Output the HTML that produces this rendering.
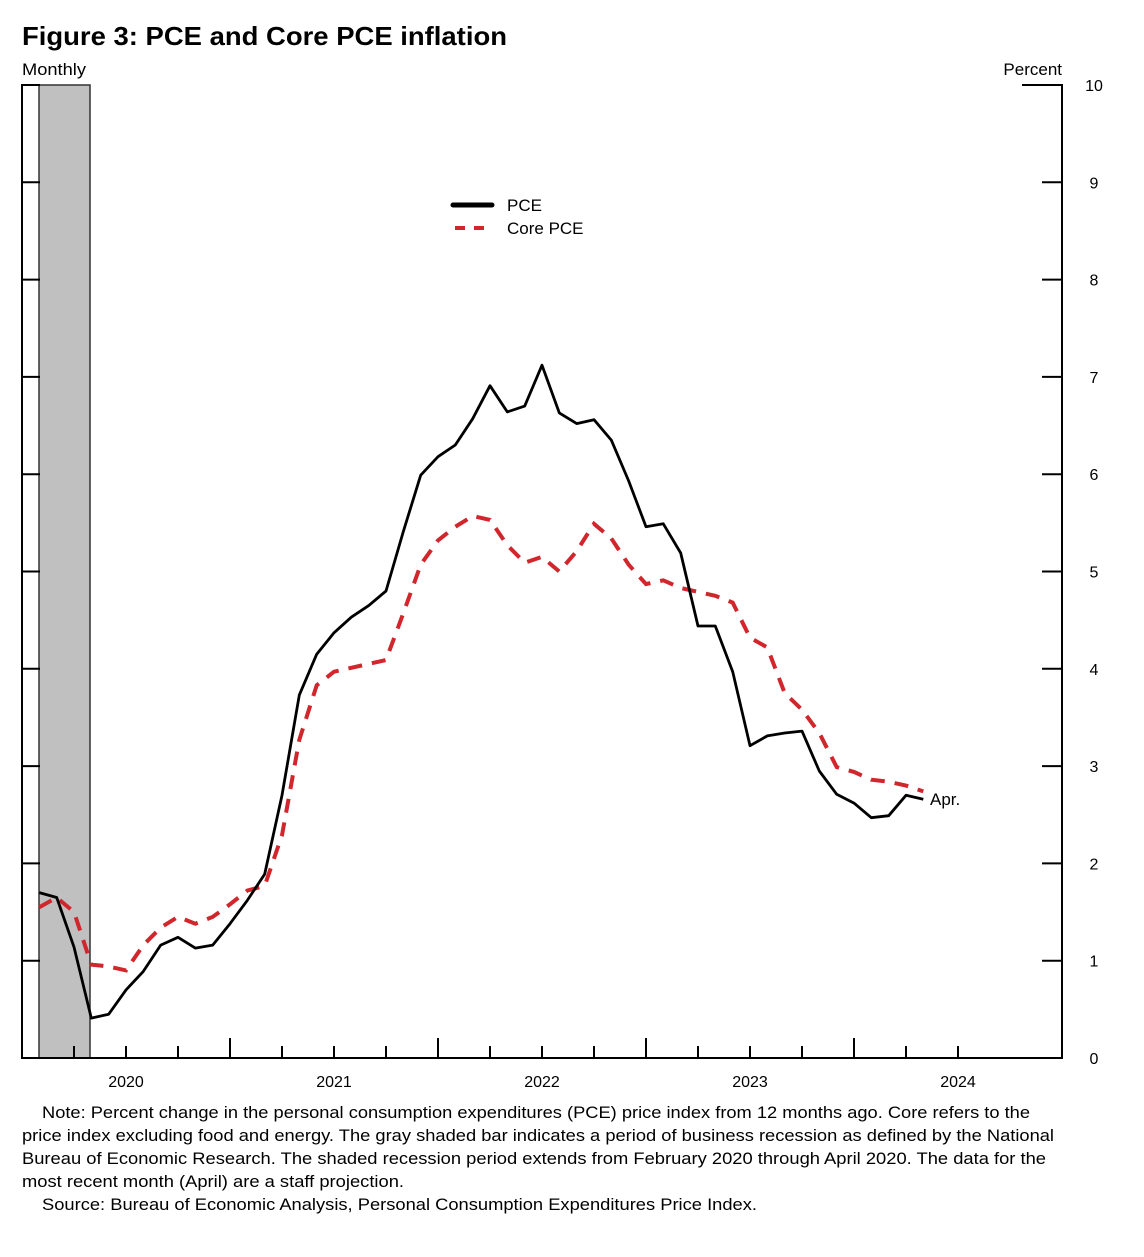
<!DOCTYPE html>
<html><head><meta charset="utf-8"><style>
body{margin:0;background:#fff;font-family:"Liberation Sans",Arial,sans-serif;}
svg text{font-family:"Liberation Sans",Arial,sans-serif;}
</style></head><body>
<svg id="c" width="1144" height="1252" xmlns="http://www.w3.org/2000/svg">
<text x="22" y="45" font-size="26" font-weight="bold" textLength="485" lengthAdjust="spacingAndGlyphs">Figure 3: PCE and Core PCE inflation</text>
<text x="22" y="75" font-size="17" textLength="64" lengthAdjust="spacingAndGlyphs">Monthly</text>
<text x="1062" y="75" font-size="17" text-anchor="end">Percent</text>
<rect x="39" y="85" width="51" height="973" fill="#c0c0c0" stroke="#333" stroke-width="1.5"/>
<g id="axes"></g>
<g id="series"></g>
<g>
<line x1="453" y1="205" x2="492" y2="205" stroke="#000" stroke-width="5" stroke-linecap="round"/>
<text x="507" y="211" font-size="17">PCE</text>
<line x1="455" y1="228" x2="492" y2="228" stroke="#d0262c" stroke-width="4" stroke-dasharray="10,9"/>
<text x="507" y="234" font-size="17">Core PCE</text>
</g>
<text x="930" y="805" font-size="17">Apr.</text>
<g font-size="17" lengthAdjust="spacingAndGlyphs">
<text x="42" y="1118" textLength="988" lengthAdjust="spacingAndGlyphs">Note: Percent change in the personal consumption expenditures (PCE) price index from 12 months ago. Core refers to the</text>
<text x="22" y="1141" textLength="1032" lengthAdjust="spacingAndGlyphs">price index excluding food and energy. The gray shaded bar indicates a period of business recession as defined by the National</text>
<text x="22" y="1164" textLength="1024" lengthAdjust="spacingAndGlyphs">Bureau of Economic Research. The shaded recession period extends from February 2020 through April 2020. The data for the</text>
<text x="22" y="1187" textLength="382" lengthAdjust="spacingAndGlyphs">most recent month (April) are a staff projection.</text>
<text x="42" y="1210" textLength="715" lengthAdjust="spacingAndGlyphs">Source: Bureau of Economic Analysis, Personal Consumption Expenditures Price Index.</text>
</g>
</svg>
<script>
const years=["2020","2021","2022","2023","2024"];
const yTicks=[0,1,2,3,4,5,6,7,8,9,10];
const pce=[1.70,1.65,1.14,0.41,0.45,0.70,0.89,1.16,1.24,1.13,1.16,1.38,1.62,1.89,2.70,3.73,4.15,4.37,4.53,4.65,4.80,5.41,5.99,6.18,6.30,6.57,6.91,6.64,6.70,7.12,6.63,6.52,6.56,6.35,5.93,5.46,5.49,5.19,4.44,4.44,3.97,3.21,3.31,3.34,3.36,2.95,2.71,2.62,2.47,2.49,2.70,2.66];
const core=[1.55,1.65,1.50,0.96,0.94,0.90,1.16,1.34,1.45,1.38,1.45,1.58,1.72,1.77,2.29,3.27,3.83,3.97,4.01,4.05,4.09,4.57,5.07,5.32,5.46,5.57,5.53,5.27,5.09,5.15,5.00,5.21,5.49,5.34,5.07,4.87,4.91,4.83,4.79,4.75,4.68,4.32,4.22,3.75,3.58,3.34,2.99,2.94,2.86,2.84,2.80,2.74];
const L=22,R=1062,T=85,B=1058,MW=(1062-22)/60;
const x=i=>L+MW*(i+1);
const y=v=>B-(B-T)*v/10;
const NS="http://www.w3.org/2000/svg";
function mk(t,a,p){const e=document.createElementNS(NS,t);for(const k in a)e.setAttribute(k,a[k]);p.appendChild(e);return e;}
const ax=document.getElementById('axes');
let e=mk('path',{d:`M${L+18} ${T}H${L}V${B}H${R}V${T}H${R-40}`,fill:'none',stroke:'#000','stroke-width':2},ax);


yTicks.forEach(v=>{
 if(v>0&&v<10){
 let t=mk('line',{x1:L,x2:L+18,y1:y(v),y2:y(v),stroke:'#000','stroke-width':2},ax);
 
 
 let t2=mk('line',{x1:R-20,x2:R,y1:y(v),y2:y(v),stroke:'#000','stroke-width':2},ax);
 
 }
 let l=mk('text',{x:1094,y:y(v)+6,'font-size':16,'text-anchor':'middle'},ax);l.textContent=v;
 
 
});
for(let q=1;q<19;q++){
 const xx=L+q*MW*3,tall=q%4==0;
 let t=mk('line',{x1:xx,x2:xx,y1:B,y2:B-(tall?20:12),stroke:'#000','stroke-width':2},ax);
 
 
}
years.forEach((yr,i)=>{
 let l=mk('text',{x:L+MW*12*(i+0.5),y:1087,'font-size':16,'text-anchor':'middle'},ax);l.textContent=yr;
 
 
});
const sg=document.getElementById('series');
const pts=a=>a.map((v,i)=>x(i).toFixed(1)+','+y(v).toFixed(1)).join(' ');
let c=mk('polyline',{points:pts(core),fill:'none',stroke:'#d0262c','stroke-width':4,'stroke-dasharray':'14,10'},sg);


let p=mk('polyline',{points:pts(pce),fill:'none',stroke:'#000','stroke-width':2.8,'stroke-linejoin':'round'},sg);


</script>
</body></html>
